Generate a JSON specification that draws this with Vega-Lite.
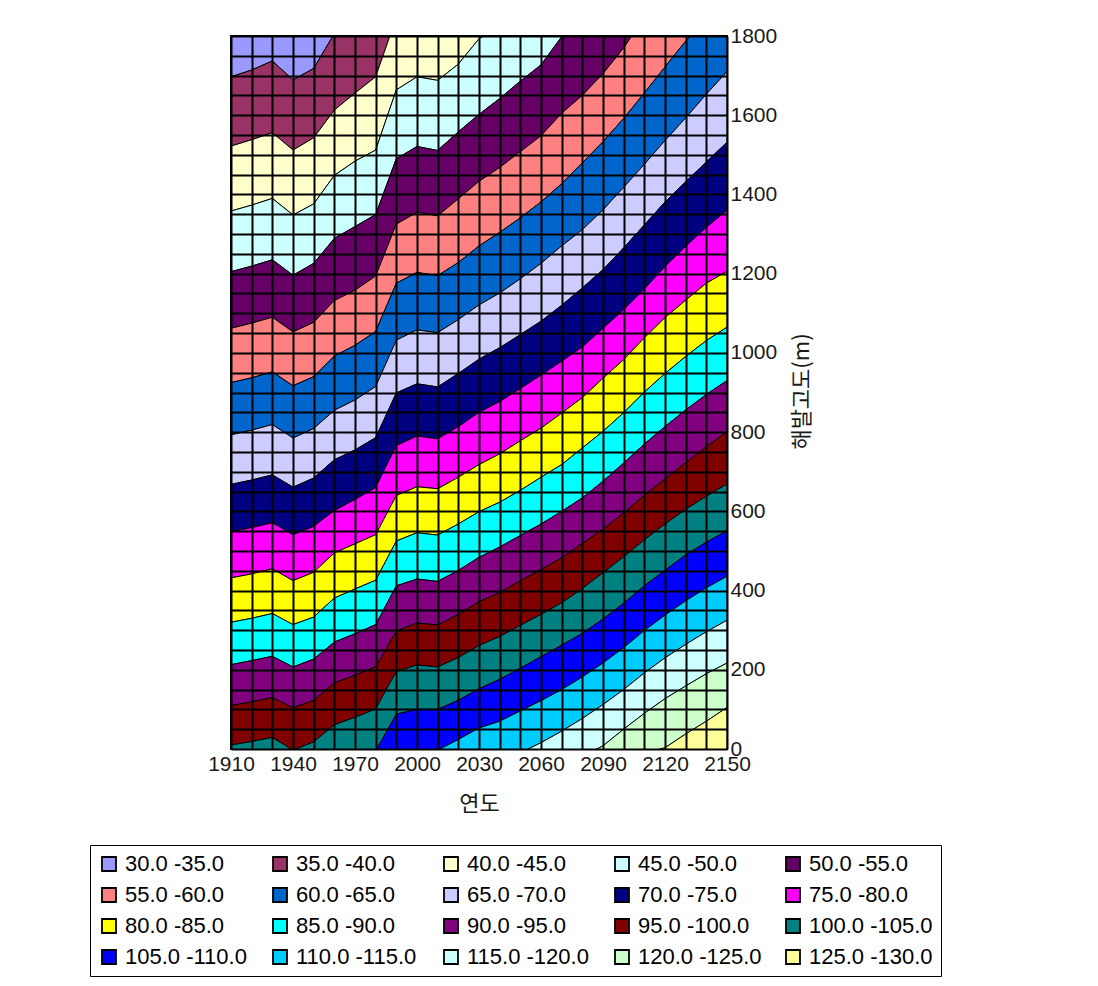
{
"$schema": "https://vega.github.io/schema/vega-lite/v6.json",
"width": 496, "height": 713,
"autosize": {"type": "none"},
"padding": {"left": 231, "top": 36, "right": 371, "bottom": 237},
"background": "white",
"config": {"view": {"stroke": "black", "strokeWidth": 2}},
"data": {"values": [
{"b":"30.0 -35.0","t":1910,"hi":2000,"lo":1697},{"b":"30.0 -35.0","t":1920,"hi":2000,"lo":1714},{"b":"30.0 -35.0","t":1930,"hi":2000,"lo":1737},{"b":"30.0 -35.0","t":1940,"hi":2000,"lo":1689},{"b":"30.0 -35.0","t":1950,"hi":2000,"lo":1718},{"b":"30.0 -35.0","t":1960,"hi":2000,"lo":1806},
{"b":"35.0 -40.0","t":1910,"hi":1697,"lo":1522},{"b":"35.0 -40.0","t":1920,"hi":1714,"lo":1538},{"b":"35.0 -40.0","t":1930,"hi":1737,"lo":1556},{"b":"35.0 -40.0","t":1940,"hi":1689,"lo":1512},{"b":"35.0 -40.0","t":1950,"hi":1718,"lo":1543},{"b":"35.0 -40.0","t":1960,"hi":1806,"lo":1613},{"b":"35.0 -40.0","t":1970,"hi":1840,"lo":1656},{"b":"35.0 -40.0","t":1980,"hi":1880,"lo":1697},{"b":"35.0 -40.0","t":1990,"hi":2045,"lo":1847},
{"b":"40.0 -45.0","t":1910,"hi":1522,"lo":1358},{"b":"40.0 -45.0","t":1920,"hi":1538,"lo":1373},{"b":"40.0 -45.0","t":1930,"hi":1556,"lo":1390},{"b":"40.0 -45.0","t":1940,"hi":1512,"lo":1348},{"b":"40.0 -45.0","t":1950,"hi":1543,"lo":1376},{"b":"40.0 -45.0","t":1960,"hi":1613,"lo":1448},{"b":"40.0 -45.0","t":1970,"hi":1656,"lo":1484},{"b":"40.0 -45.0","t":1980,"hi":1697,"lo":1512},{"b":"40.0 -45.0","t":1990,"hi":1847,"lo":1664},{"b":"40.0 -45.0","t":2000,"hi":1885,"lo":1697},{"b":"40.0 -45.0","t":2010,"hi":1874,"lo":1688},{"b":"40.0 -45.0","t":2020,"hi":1917,"lo":1729},{"b":"40.0 -45.0","t":2030,"hi":1973,"lo":1793},{"b":"40.0 -45.0","t":2040,"hi":2017,"lo":1821},
{"b":"45.0 -50.0","t":1910,"hi":1358,"lo":1205},{"b":"45.0 -50.0","t":1920,"hi":1373,"lo":1219},{"b":"45.0 -50.0","t":1930,"hi":1390,"lo":1235},{"b":"45.0 -50.0","t":1940,"hi":1348,"lo":1196},{"b":"45.0 -50.0","t":1950,"hi":1376,"lo":1226},{"b":"45.0 -50.0","t":1960,"hi":1448,"lo":1289},{"b":"45.0 -50.0","t":1970,"hi":1484,"lo":1319},{"b":"45.0 -50.0","t":1980,"hi":1512,"lo":1349},{"b":"45.0 -50.0","t":1990,"hi":1664,"lo":1490},{"b":"45.0 -50.0","t":2000,"hi":1697,"lo":1521},{"b":"45.0 -50.0","t":2010,"hi":1688,"lo":1511},{"b":"45.0 -50.0","t":2020,"hi":1729,"lo":1558},{"b":"45.0 -50.0","t":2030,"hi":1793,"lo":1602},{"b":"45.0 -50.0","t":2040,"hi":1821,"lo":1642},{"b":"45.0 -50.0","t":2050,"hi":1870,"lo":1686},{"b":"45.0 -50.0","t":2060,"hi":1917,"lo":1727},{"b":"45.0 -50.0","t":2070,"hi":1969,"lo":1798},{"b":"45.0 -50.0","t":2080,"hi":2025,"lo":1829},
{"b":"50.0 -55.0","t":1910,"hi":1205,"lo":1062},{"b":"50.0 -55.0","t":1920,"hi":1219,"lo":1075},{"b":"50.0 -55.0","t":1930,"hi":1235,"lo":1090},{"b":"50.0 -55.0","t":1940,"hi":1196,"lo":1053},{"b":"50.0 -55.0","t":1950,"hi":1226,"lo":1077},{"b":"50.0 -55.0","t":1960,"hi":1289,"lo":1132},{"b":"50.0 -55.0","t":1970,"hi":1319,"lo":1158},{"b":"50.0 -55.0","t":1980,"hi":1349,"lo":1194},{"b":"50.0 -55.0","t":1990,"hi":1490,"lo":1325},{"b":"50.0 -55.0","t":2000,"hi":1521,"lo":1355},{"b":"50.0 -55.0","t":2010,"hi":1511,"lo":1346},{"b":"50.0 -55.0","t":2020,"hi":1558,"lo":1389},{"b":"50.0 -55.0","t":2030,"hi":1602,"lo":1433},{"b":"50.0 -55.0","t":2040,"hi":1642,"lo":1468},{"b":"50.0 -55.0","t":2050,"hi":1686,"lo":1508},{"b":"50.0 -55.0","t":2060,"hi":1727,"lo":1548},{"b":"50.0 -55.0","t":2070,"hi":1798,"lo":1605},{"b":"50.0 -55.0","t":2080,"hi":1829,"lo":1650},{"b":"50.0 -55.0","t":2090,"hi":1893,"lo":1705},{"b":"50.0 -55.0","t":2100,"hi":1965,"lo":1770},{"b":"50.0 -55.0","t":2110,"hi":2045,"lo":1847},
{"b":"55.0 -60.0","t":1910,"hi":1062,"lo":925},{"b":"55.0 -60.0","t":1920,"hi":1075,"lo":937},{"b":"55.0 -60.0","t":1930,"hi":1090,"lo":952},{"b":"55.0 -60.0","t":1940,"hi":1053,"lo":917},{"b":"55.0 -60.0","t":1950,"hi":1077,"lo":940},{"b":"55.0 -60.0","t":1960,"hi":1132,"lo":992},{"b":"55.0 -60.0","t":1970,"hi":1158,"lo":1019},{"b":"55.0 -60.0","t":1980,"hi":1194,"lo":1054},{"b":"55.0 -60.0","t":1990,"hi":1325,"lo":1176},{"b":"55.0 -60.0","t":2000,"hi":1355,"lo":1203},{"b":"55.0 -60.0","t":2010,"hi":1346,"lo":1195},{"b":"55.0 -60.0","t":2020,"hi":1389,"lo":1228},{"b":"55.0 -60.0","t":2030,"hi":1433,"lo":1270},{"b":"55.0 -60.0","t":2040,"hi":1468,"lo":1304},{"b":"55.0 -60.0","t":2050,"hi":1508,"lo":1341},{"b":"55.0 -60.0","t":2060,"hi":1548,"lo":1381},{"b":"55.0 -60.0","t":2070,"hi":1605,"lo":1427},{"b":"55.0 -60.0","t":2080,"hi":1650,"lo":1480},{"b":"55.0 -60.0","t":2090,"hi":1705,"lo":1533},{"b":"55.0 -60.0","t":2100,"hi":1770,"lo":1592},{"b":"55.0 -60.0","t":2110,"hi":1847,"lo":1656},{"b":"55.0 -60.0","t":2120,"hi":1917,"lo":1722},{"b":"55.0 -60.0","t":2130,"hi":1981,"lo":1787},{"b":"55.0 -60.0","t":2140,"hi":2041,"lo":1844},
{"b":"60.0 -65.0","t":1910,"hi":925,"lo":793},{"b":"60.0 -65.0","t":1920,"hi":937,"lo":805},{"b":"60.0 -65.0","t":1930,"hi":952,"lo":819},{"b":"60.0 -65.0","t":1940,"hi":917,"lo":785},{"b":"60.0 -65.0","t":1950,"hi":940,"lo":809},{"b":"60.0 -65.0","t":1960,"hi":992,"lo":855},{"b":"60.0 -65.0","t":1970,"hi":1019,"lo":881},{"b":"60.0 -65.0","t":1980,"hi":1054,"lo":915},{"b":"60.0 -65.0","t":1990,"hi":1176,"lo":1032},{"b":"60.0 -65.0","t":2000,"hi":1203,"lo":1058},{"b":"60.0 -65.0","t":2010,"hi":1195,"lo":1051},{"b":"60.0 -65.0","t":2020,"hi":1228,"lo":1084},{"b":"60.0 -65.0","t":2030,"hi":1270,"lo":1121},{"b":"60.0 -65.0","t":2040,"hi":1304,"lo":1151},{"b":"60.0 -65.0","t":2050,"hi":1341,"lo":1187},{"b":"60.0 -65.0","t":2060,"hi":1381,"lo":1226},{"b":"60.0 -65.0","t":2070,"hi":1427,"lo":1270},{"b":"60.0 -65.0","t":2080,"hi":1480,"lo":1311},{"b":"60.0 -65.0","t":2090,"hi":1533,"lo":1361},{"b":"60.0 -65.0","t":2100,"hi":1592,"lo":1418},{"b":"60.0 -65.0","t":2110,"hi":1656,"lo":1476},{"b":"60.0 -65.0","t":2120,"hi":1722,"lo":1536},{"b":"60.0 -65.0","t":2130,"hi":1787,"lo":1593},{"b":"60.0 -65.0","t":2140,"hi":1844,"lo":1653},{"b":"60.0 -65.0","t":2150,"hi":1893,"lo":1710},
{"b":"65.0 -70.0","t":1910,"hi":793,"lo":668},{"b":"65.0 -70.0","t":1920,"hi":805,"lo":679},{"b":"65.0 -70.0","t":1930,"hi":819,"lo":692},{"b":"65.0 -70.0","t":1940,"hi":785,"lo":661},{"b":"65.0 -70.0","t":1950,"hi":809,"lo":684},{"b":"65.0 -70.0","t":1960,"hi":855,"lo":730},{"b":"65.0 -70.0","t":1970,"hi":881,"lo":755},{"b":"65.0 -70.0","t":1980,"hi":915,"lo":786},{"b":"65.0 -70.0","t":1990,"hi":1032,"lo":899},{"b":"65.0 -70.0","t":2000,"hi":1058,"lo":922},{"b":"65.0 -70.0","t":2010,"hi":1051,"lo":914},{"b":"65.0 -70.0","t":2020,"hi":1084,"lo":948},{"b":"65.0 -70.0","t":2030,"hi":1121,"lo":984},{"b":"65.0 -70.0","t":2040,"hi":1151,"lo":1013},{"b":"65.0 -70.0","t":2050,"hi":1187,"lo":1046},{"b":"65.0 -70.0","t":2060,"hi":1226,"lo":1080},{"b":"65.0 -70.0","t":2070,"hi":1270,"lo":1120},{"b":"65.0 -70.0","t":2080,"hi":1311,"lo":1164},{"b":"65.0 -70.0","t":2090,"hi":1361,"lo":1210},{"b":"65.0 -70.0","t":2100,"hi":1418,"lo":1265},{"b":"65.0 -70.0","t":2110,"hi":1476,"lo":1323},{"b":"65.0 -70.0","t":2120,"hi":1536,"lo":1381},{"b":"65.0 -70.0","t":2130,"hi":1593,"lo":1432},{"b":"65.0 -70.0","t":2140,"hi":1653,"lo":1482},{"b":"65.0 -70.0","t":2150,"hi":1710,"lo":1532},
{"b":"70.0 -75.0","t":1910,"hi":668,"lo":548},{"b":"70.0 -75.0","t":1920,"hi":679,"lo":559},{"b":"70.0 -75.0","t":1930,"hi":692,"lo":571},{"b":"70.0 -75.0","t":1940,"hi":661,"lo":541},{"b":"70.0 -75.0","t":1950,"hi":684,"lo":562},{"b":"70.0 -75.0","t":1960,"hi":730,"lo":602},{"b":"70.0 -75.0","t":1970,"hi":755,"lo":630},{"b":"70.0 -75.0","t":1980,"hi":786,"lo":660},{"b":"70.0 -75.0","t":1990,"hi":899,"lo":766},{"b":"70.0 -75.0","t":2000,"hi":922,"lo":790},{"b":"70.0 -75.0","t":2010,"hi":914,"lo":783},{"b":"70.0 -75.0","t":2020,"hi":948,"lo":814},{"b":"70.0 -75.0","t":2030,"hi":984,"lo":850},{"b":"70.0 -75.0","t":2040,"hi":1013,"lo":877},{"b":"70.0 -75.0","t":2050,"hi":1046,"lo":910},{"b":"70.0 -75.0","t":2060,"hi":1080,"lo":944},{"b":"70.0 -75.0","t":2070,"hi":1120,"lo":979},{"b":"70.0 -75.0","t":2080,"hi":1164,"lo":1015},{"b":"70.0 -75.0","t":2090,"hi":1210,"lo":1062},{"b":"70.0 -75.0","t":2100,"hi":1265,"lo":1109},{"b":"70.0 -75.0","t":2110,"hi":1323,"lo":1161},{"b":"70.0 -75.0","t":2120,"hi":1381,"lo":1218},{"b":"70.0 -75.0","t":2130,"hi":1432,"lo":1269},{"b":"70.0 -75.0","t":2140,"hi":1482,"lo":1317},{"b":"70.0 -75.0","t":2150,"hi":1532,"lo":1360},
{"b":"75.0 -80.0","t":1910,"hi":548,"lo":432},{"b":"75.0 -80.0","t":1920,"hi":559,"lo":442},{"b":"75.0 -80.0","t":1930,"hi":571,"lo":455},{"b":"75.0 -80.0","t":1940,"hi":541,"lo":425},{"b":"75.0 -80.0","t":1950,"hi":562,"lo":446},{"b":"75.0 -80.0","t":1960,"hi":602,"lo":495},{"b":"75.0 -80.0","t":1970,"hi":630,"lo":518},{"b":"75.0 -80.0","t":1980,"hi":660,"lo":541},{"b":"75.0 -80.0","t":1990,"hi":766,"lo":640},{"b":"75.0 -80.0","t":2000,"hi":790,"lo":662},{"b":"75.0 -80.0","t":2010,"hi":783,"lo":657},{"b":"75.0 -80.0","t":2020,"hi":814,"lo":686},{"b":"75.0 -80.0","t":2030,"hi":850,"lo":718},{"b":"75.0 -80.0","t":2040,"hi":877,"lo":745},{"b":"75.0 -80.0","t":2050,"hi":910,"lo":778},{"b":"75.0 -80.0","t":2060,"hi":944,"lo":810},{"b":"75.0 -80.0","t":2070,"hi":979,"lo":848},{"b":"75.0 -80.0","t":2080,"hi":1015,"lo":887},{"b":"75.0 -80.0","t":2090,"hi":1062,"lo":936},{"b":"75.0 -80.0","t":2100,"hi":1109,"lo":983},{"b":"75.0 -80.0","t":2110,"hi":1161,"lo":1038},{"b":"75.0 -80.0","t":2120,"hi":1218,"lo":1089},{"b":"75.0 -80.0","t":2130,"hi":1269,"lo":1133},{"b":"75.0 -80.0","t":2140,"hi":1317,"lo":1176},{"b":"75.0 -80.0","t":2150,"hi":1360,"lo":1206},
{"b":"80.0 -85.0","t":1910,"hi":432,"lo":320},{"b":"80.0 -85.0","t":1920,"hi":442,"lo":330},{"b":"80.0 -85.0","t":1930,"hi":455,"lo":342},{"b":"80.0 -85.0","t":1940,"hi":425,"lo":314},{"b":"80.0 -85.0","t":1950,"hi":446,"lo":333},{"b":"80.0 -85.0","t":1960,"hi":495,"lo":381},{"b":"80.0 -85.0","t":1970,"hi":518,"lo":404},{"b":"80.0 -85.0","t":1980,"hi":541,"lo":426},{"b":"80.0 -85.0","t":1990,"hi":640,"lo":525},{"b":"80.0 -85.0","t":2000,"hi":662,"lo":546},{"b":"80.0 -85.0","t":2010,"hi":657,"lo":540},{"b":"80.0 -85.0","t":2020,"hi":686,"lo":568},{"b":"80.0 -85.0","t":2030,"hi":718,"lo":599},{"b":"80.0 -85.0","t":2040,"hi":745,"lo":623},{"b":"80.0 -85.0","t":2050,"hi":778,"lo":653},{"b":"80.0 -85.0","t":2060,"hi":810,"lo":686},{"b":"80.0 -85.0","t":2070,"hi":848,"lo":718},{"b":"80.0 -85.0","t":2080,"hi":887,"lo":760},{"b":"80.0 -85.0","t":2090,"hi":936,"lo":802},{"b":"80.0 -85.0","t":2100,"hi":983,"lo":849},{"b":"80.0 -85.0","t":2110,"hi":1038,"lo":901},{"b":"80.0 -85.0","t":2120,"hi":1089,"lo":948},{"b":"80.0 -85.0","t":2130,"hi":1133,"lo":991},{"b":"80.0 -85.0","t":2140,"hi":1176,"lo":1031},{"b":"80.0 -85.0","t":2150,"hi":1206,"lo":1065},
{"b":"85.0 -90.0","t":1910,"hi":320,"lo":213},{"b":"85.0 -90.0","t":1920,"hi":330,"lo":223},{"b":"85.0 -90.0","t":1930,"hi":342,"lo":234},{"b":"85.0 -90.0","t":1940,"hi":314,"lo":207},{"b":"85.0 -90.0","t":1950,"hi":333,"lo":227},{"b":"85.0 -90.0","t":1960,"hi":381,"lo":270},{"b":"85.0 -90.0","t":1970,"hi":404,"lo":291},{"b":"85.0 -90.0","t":1980,"hi":426,"lo":314},{"b":"85.0 -90.0","t":1990,"hi":525,"lo":412},{"b":"85.0 -90.0","t":2000,"hi":546,"lo":429},{"b":"85.0 -90.0","t":2010,"hi":540,"lo":423},{"b":"85.0 -90.0","t":2020,"hi":568,"lo":451},{"b":"85.0 -90.0","t":2030,"hi":599,"lo":484},{"b":"85.0 -90.0","t":2040,"hi":623,"lo":510},{"b":"85.0 -90.0","t":2050,"hi":653,"lo":539},{"b":"85.0 -90.0","t":2060,"hi":686,"lo":568},{"b":"85.0 -90.0","t":2070,"hi":718,"lo":600},{"b":"85.0 -90.0","t":2080,"hi":760,"lo":634},{"b":"85.0 -90.0","t":2090,"hi":802,"lo":676},{"b":"85.0 -90.0","t":2100,"hi":849,"lo":722},{"b":"85.0 -90.0","t":2110,"hi":901,"lo":770},{"b":"85.0 -90.0","t":2120,"hi":948,"lo":814},{"b":"85.0 -90.0","t":2130,"hi":991,"lo":856},{"b":"85.0 -90.0","t":2140,"hi":1031,"lo":895},{"b":"85.0 -90.0","t":2150,"hi":1065,"lo":930},
{"b":"90.0 -95.0","t":1910,"hi":213,"lo":110},{"b":"90.0 -95.0","t":1920,"hi":223,"lo":119},{"b":"90.0 -95.0","t":1930,"hi":234,"lo":130},{"b":"90.0 -95.0","t":1940,"hi":207,"lo":104},{"b":"90.0 -95.0","t":1950,"hi":227,"lo":123},{"b":"90.0 -95.0","t":1960,"hi":270,"lo":167},{"b":"90.0 -95.0","t":1970,"hi":291,"lo":186},{"b":"90.0 -95.0","t":1980,"hi":314,"lo":208},{"b":"90.0 -95.0","t":1990,"hi":412,"lo":298},{"b":"90.0 -95.0","t":2000,"hi":429,"lo":318},{"b":"90.0 -95.0","t":2010,"hi":423,"lo":313},{"b":"90.0 -95.0","t":2020,"hi":451,"lo":340},{"b":"90.0 -95.0","t":2030,"hi":484,"lo":372},{"b":"90.0 -95.0","t":2040,"hi":510,"lo":395},{"b":"90.0 -95.0","t":2050,"hi":539,"lo":425},{"b":"90.0 -95.0","t":2060,"hi":568,"lo":453},{"b":"90.0 -95.0","t":2070,"hi":600,"lo":483},{"b":"90.0 -95.0","t":2080,"hi":634,"lo":519},{"b":"90.0 -95.0","t":2090,"hi":676,"lo":555},{"b":"90.0 -95.0","t":2100,"hi":722,"lo":596},{"b":"90.0 -95.0","t":2110,"hi":770,"lo":641},{"b":"90.0 -95.0","t":2120,"hi":814,"lo":682},{"b":"90.0 -95.0","t":2130,"hi":856,"lo":723},{"b":"90.0 -95.0","t":2140,"hi":895,"lo":763},{"b":"90.0 -95.0","t":2150,"hi":930,"lo":801},
{"b":"95.0 -100.0","t":1910,"hi":110,"lo":10},{"b":"95.0 -100.0","t":1920,"hi":119,"lo":19},{"b":"95.0 -100.0","t":1930,"hi":130,"lo":29},{"b":"95.0 -100.0","t":1940,"hi":104,"lo":-3},{"b":"95.0 -100.0","t":1950,"hi":123,"lo":18},{"b":"95.0 -100.0","t":1960,"hi":167,"lo":61},{"b":"95.0 -100.0","t":1970,"hi":186,"lo":80},{"b":"95.0 -100.0","t":1980,"hi":208,"lo":101},{"b":"95.0 -100.0","t":1990,"hi":298,"lo":196},{"b":"95.0 -100.0","t":2000,"hi":318,"lo":212},{"b":"95.0 -100.0","t":2010,"hi":313,"lo":207},{"b":"95.0 -100.0","t":2020,"hi":340,"lo":231},{"b":"95.0 -100.0","t":2030,"hi":372,"lo":261},{"b":"95.0 -100.0","t":2040,"hi":395,"lo":284},{"b":"95.0 -100.0","t":2050,"hi":425,"lo":312},{"b":"95.0 -100.0","t":2060,"hi":453,"lo":340},{"b":"95.0 -100.0","t":2070,"hi":483,"lo":369},{"b":"95.0 -100.0","t":2080,"hi":519,"lo":405},{"b":"95.0 -100.0","t":2090,"hi":555,"lo":445},{"b":"95.0 -100.0","t":2100,"hi":596,"lo":485},{"b":"95.0 -100.0","t":2110,"hi":641,"lo":528},{"b":"95.0 -100.0","t":2120,"hi":682,"lo":568},{"b":"95.0 -100.0","t":2130,"hi":723,"lo":605},{"b":"95.0 -100.0","t":2140,"hi":763,"lo":638},{"b":"95.0 -100.0","t":2150,"hi":801,"lo":669},
{"b":"100.0 -105.0","t":1910,"hi":10,"lo":-88},{"b":"100.0 -105.0","t":1920,"hi":19,"lo":-79},{"b":"100.0 -105.0","t":1930,"hi":29,"lo":-69},{"b":"100.0 -105.0","t":1940,"hi":-3,"lo":-94},{"b":"100.0 -105.0","t":1950,"hi":18,"lo":-76},{"b":"100.0 -105.0","t":1960,"hi":61,"lo":-37},{"b":"100.0 -105.0","t":1970,"hi":80,"lo":-17},{"b":"100.0 -105.0","t":1980,"hi":101,"lo":-5},{"b":"100.0 -105.0","t":1990,"hi":196,"lo":88},{"b":"100.0 -105.0","t":2000,"hi":212,"lo":100},{"b":"100.0 -105.0","t":2010,"hi":207,"lo":100},{"b":"100.0 -105.0","t":2020,"hi":231,"lo":123},{"b":"100.0 -105.0","t":2030,"hi":261,"lo":152},{"b":"100.0 -105.0","t":2040,"hi":284,"lo":176},{"b":"100.0 -105.0","t":2050,"hi":312,"lo":204},{"b":"100.0 -105.0","t":2060,"hi":340,"lo":233},{"b":"100.0 -105.0","t":2070,"hi":369,"lo":262},{"b":"100.0 -105.0","t":2080,"hi":405,"lo":292},{"b":"100.0 -105.0","t":2090,"hi":445,"lo":328},{"b":"100.0 -105.0","t":2100,"hi":485,"lo":368},{"b":"100.0 -105.0","t":2110,"hi":528,"lo":412},{"b":"100.0 -105.0","t":2120,"hi":568,"lo":451},{"b":"100.0 -105.0","t":2130,"hi":605,"lo":490},{"b":"100.0 -105.0","t":2140,"hi":638,"lo":522},{"b":"100.0 -105.0","t":2150,"hi":669,"lo":551},
{"b":"105.0 -110.0","t":1980,"hi":-5,"lo":-94},{"b":"105.0 -110.0","t":1990,"hi":88,"lo":-10},{"b":"105.0 -110.0","t":2000,"hi":100,"lo":-20},{"b":"105.0 -110.0","t":2010,"hi":100,"lo":-3},{"b":"105.0 -110.0","t":2020,"hi":123,"lo":24},{"b":"105.0 -110.0","t":2030,"hi":152,"lo":53},{"b":"105.0 -110.0","t":2040,"hi":176,"lo":70},{"b":"105.0 -110.0","t":2050,"hi":204,"lo":96},{"b":"105.0 -110.0","t":2060,"hi":233,"lo":122},{"b":"105.0 -110.0","t":2070,"hi":262,"lo":150},{"b":"105.0 -110.0","t":2080,"hi":292,"lo":182},{"b":"105.0 -110.0","t":2090,"hi":328,"lo":217},{"b":"105.0 -110.0","t":2100,"hi":368,"lo":256},{"b":"105.0 -110.0","t":2110,"hi":412,"lo":299},{"b":"105.0 -110.0","t":2120,"hi":451,"lo":338},{"b":"105.0 -110.0","t":2130,"hi":490,"lo":374},{"b":"105.0 -110.0","t":2140,"hi":522,"lo":407},{"b":"105.0 -110.0","t":2150,"hi":551,"lo":436},
{"b":"110.0 -115.0","t":2010,"hi":-3,"lo":-94},{"b":"110.0 -115.0","t":2020,"hi":24,"lo":-72},{"b":"110.0 -115.0","t":2030,"hi":53,"lo":-45},{"b":"110.0 -115.0","t":2040,"hi":70,"lo":-25},{"b":"110.0 -115.0","t":2050,"hi":96,"lo":-10},{"b":"110.0 -115.0","t":2060,"hi":122,"lo":16},{"b":"110.0 -115.0","t":2070,"hi":150,"lo":45},{"b":"110.0 -115.0","t":2080,"hi":182,"lo":77},{"b":"110.0 -115.0","t":2090,"hi":217,"lo":112},{"b":"110.0 -115.0","t":2100,"hi":256,"lo":150},{"b":"110.0 -115.0","t":2110,"hi":299,"lo":192},{"b":"110.0 -115.0","t":2120,"hi":338,"lo":230},{"b":"110.0 -115.0","t":2130,"hi":374,"lo":264},{"b":"110.0 -115.0","t":2140,"hi":407,"lo":296},{"b":"110.0 -115.0","t":2150,"hi":436,"lo":325},
{"b":"115.0 -120.0","t":2050,"hi":-10,"lo":-96},{"b":"115.0 -120.0","t":2060,"hi":16,"lo":-72},{"b":"115.0 -120.0","t":2070,"hi":45,"lo":-47},{"b":"115.0 -120.0","t":2080,"hi":77,"lo":-19},{"b":"115.0 -120.0","t":2090,"hi":112,"lo":8},{"b":"115.0 -120.0","t":2100,"hi":150,"lo":50},{"b":"115.0 -120.0","t":2110,"hi":192,"lo":90},{"b":"115.0 -120.0","t":2120,"hi":230,"lo":127},{"b":"115.0 -120.0","t":2130,"hi":264,"lo":159},{"b":"115.0 -120.0","t":2140,"hi":296,"lo":190},{"b":"115.0 -120.0","t":2150,"hi":325,"lo":217},
{"b":"120.0 -125.0","t":2080,"hi":-19,"lo":-117},{"b":"120.0 -125.0","t":2090,"hi":8,"lo":-84},{"b":"120.0 -125.0","t":2100,"hi":50,"lo":-49},{"b":"120.0 -125.0","t":2110,"hi":90,"lo":-10},{"b":"120.0 -125.0","t":2120,"hi":127,"lo":3},{"b":"120.0 -125.0","t":2130,"hi":159,"lo":38},{"b":"120.0 -125.0","t":2140,"hi":190,"lo":70},{"b":"120.0 -125.0","t":2150,"hi":217,"lo":105},
{"b":"125.0 -130.0","t":2110,"hi":-10,"lo":-200},{"b":"125.0 -130.0","t":2120,"hi":3,"lo":-200},{"b":"125.0 -130.0","t":2130,"hi":38,"lo":-200},{"b":"125.0 -130.0","t":2140,"hi":70,"lo":-200},{"b":"125.0 -130.0","t":2150,"hi":105,"lo":-200}
]},
"mark": {"type": "area", "clip": true, "stroke": "black", "strokeWidth": 1, "opacity": 1, "interpolate": "linear"},
"encoding": {
 "x": {"field": "t", "type": "quantitative",
   "scale": {"domain": [1910, 2150], "nice": false, "zero": false},
   "axis": {"values": [1910,1920,1930,1940,1950,1960,1970,1980,1990,2000,2010,2020,2030,2040,2050,2060,2070,2080,2090,2100,2110,2120,2130,2140,2150],
     "labelExpr": "(datum.value - 1910) % 30 == 0 ? datum.label : ''", "format": "d",
     "grid": true, "gridColor": "black", "gridWidth": 2, "gridOpacity": 1,
     "ticks": false, "domain": false, "labelFlush": false, "labelOverlap": false,
     "labelFont": "Liberation Sans", "labelFontSize": 21, "labelColor": "#1a1a1a", "labelPadding": 4,
     "title": "연도", "titleFont": "Noto Sans CJK KR", "titleFontSize": 22, "titleFontWeight": "normal", "titleColor": "#1a1a1a",
     "titleX": 248, "titleY": 54, "titleAlign": "center", "titleBaseline": "middle", "zindex": 1}},
 "y": {"field": "hi", "type": "quantitative", "stack": null,
   "scale": {"domain": [0, 1800], "nice": false, "zero": false},
   "axis": {"orient": "right", "values": [0,50,100,150,200,250,300,350,400,450,500,550,600,650,700,750,800,850,900,950,1000,1050,1100,1150,1200,1250,1300,1350,1400,1450,1500,1550,1600,1650,1700,1750,1800],
     "labelExpr": "datum.value % 200 == 0 ? datum.label : ''", "format": "d",
     "grid": true, "gridColor": "black", "gridWidth": 2, "gridOpacity": 1,
     "ticks": false, "domain": false, "labelFlush": false, "labelOverlap": false,
     "labelFont": "Liberation Sans", "labelFontSize": 21, "labelColor": "#1a1a1a", "labelPadding": 3, "labelBaseline": "middle",
     "title": "해발고도(m)", "titleFont": "Noto Sans CJK KR", "titleFontSize": 22, "titleFontWeight": "normal", "titleColor": "#1a1a1a",
     "titleAngle": -90, "titleX": 74, "titleY": 355, "titleAlign": "center", "titleBaseline": "middle", "zindex": 1}},
 "y2": {"field": "lo"},
 "color": {"field": "b", "type": "nominal",
   "scale": {"domain": ["30.0 -35.0","35.0 -40.0","40.0 -45.0","45.0 -50.0","50.0 -55.0","55.0 -60.0","60.0 -65.0","65.0 -70.0","70.0 -75.0","75.0 -80.0","80.0 -85.0","85.0 -90.0","90.0 -95.0","95.0 -100.0","100.0 -105.0","105.0 -110.0","110.0 -115.0","115.0 -120.0","120.0 -125.0","125.0 -130.0"],
     "range": ["#9999FF","#993366","#FFFFCC","#CCFFFF","#660066","#FF8080","#0066CC","#CCCCFF","#000080","#FF00FF","#FFFF00","#00FFFF","#800080","#800000","#008080","#0000FF","#00CCFF","#CCFFFF","#CCFFCC","#FFFF99"]},
   "legend": {"orient": "none", "legendX": -141, "legendY": 809, "columns": 5, "direction": "horizontal",
     "symbolType": "square", "symbolSize": 196, "symbolStrokeColor": "black", "symbolStrokeWidth": 1.8, "symbolOpacity": 1,
     "labelFont": "Liberation Sans", "labelFontSize": 22, "labelColor": "black", "labelLimit": 400, "labelOffset": 5,
     "columnPadding": 20, "rowPadding": 9, "gridAlign": "all",
     "padding": 8, "strokeColor": "black", "fillColor": "white", "title": null}}
}
}
